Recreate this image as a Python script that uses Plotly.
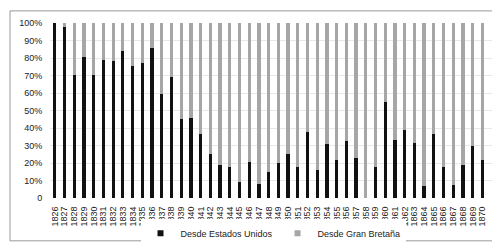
import plotly.graph_objects as go

years = [str(y) for y in range(1826, 1871)]
eeuu = [100, 98, 70.2, 80.5, 70.2, 78.9, 78.5, 84, 75.7, 77.3, 85.5, 59.4, 69.1,
        45, 45.7, 36.5, 25.4, 18.8, 17.7, 9, 20.6, 8, 15, 20.2, 25.4, 17.7, 37.8,
        16, 31, 21.8, 32.3, 22.7, 0, 18, 54.8, 33.3, 38.8, 31.6, 6.7, 36.5, 17.7,
        7.3, 18.8, 29.6, 21.6]
gb = [round(100 - v, 1) for v in eeuu]
series_names = ["Desde Estados Unidos", "Desde Gran Bretaña"]
series_colors = ["#111111", "#a6a6a6"]
ytick_vals = [0, 10, 20, 30, 40, 50, 60, 70, 80, 90, 100]
ytick_text = ["0", "10%", "20%", "30%", "40%", "50%", "60%", "70%", "80%", "90%", "100%"]

font = dict(family="Liberation Sans, Arial, sans-serif", size=9, color="#222222")

fig = go.Figure()
for vals, name, col in zip([eeuu, gb], series_names, series_colors):
    fig.add_bar(x=years, y=vals, name=name, marker_color=col,
                marker_line_width=0, width=0.33, showlegend=False)
    fig.add_scatter(x=[None], y=[None], mode="markers", name=name,
                    marker=dict(symbol="square", size=6, color=col))

L, R, T, B = 42, 12, 15, 49
W = 500 - L - R
H = 252 - T - B

def px(x):
    return (x - L) / W

def py(y):
    return (252 - B - y) / H

fig.update_layout(
    barmode="stack",
    width=500, height=252,
    margin=dict(l=L, r=R, t=T, b=B),
    paper_bgcolor="white", plot_bgcolor="white",
    font=font,
    showlegend=True,
    legend=dict(orientation="h", x=0.5, xanchor="center", y=py(241), yanchor="middle",
                font=font, traceorder="normal", itemwidth=30, tracegroupgap=0),
    yaxis=dict(range=[0, 100], tickmode="array", tickvals=ytick_vals, ticktext=ytick_text,
               showgrid=True, gridcolor="#e8e8e8", gridwidth=1, zeroline=False,
               ticks="outside", ticklen=5, tickcolor="white", tickfont=font,
               automargin=False),
    shapes=[dict(type="rect", xref="paper", yref="paper",
                 x0=px(2), x1=px(497.5), y0=py(249), y1=py(2),
                 line=dict(color="#999999", width=1), fillcolor="rgba(0,0,0,0)")],
)
fig.update_xaxes(type="category", range=[-0.5, 45.4], showgrid=False,
                 tickmode="array", tickvals=years, ticktext=years, tickangle=-90,
                 ticks="outside", ticklen=4, tickcolor="white", tickfont=font,
                 showline=False, zeroline=False, automargin=False)

fig.write_html("out.html")
